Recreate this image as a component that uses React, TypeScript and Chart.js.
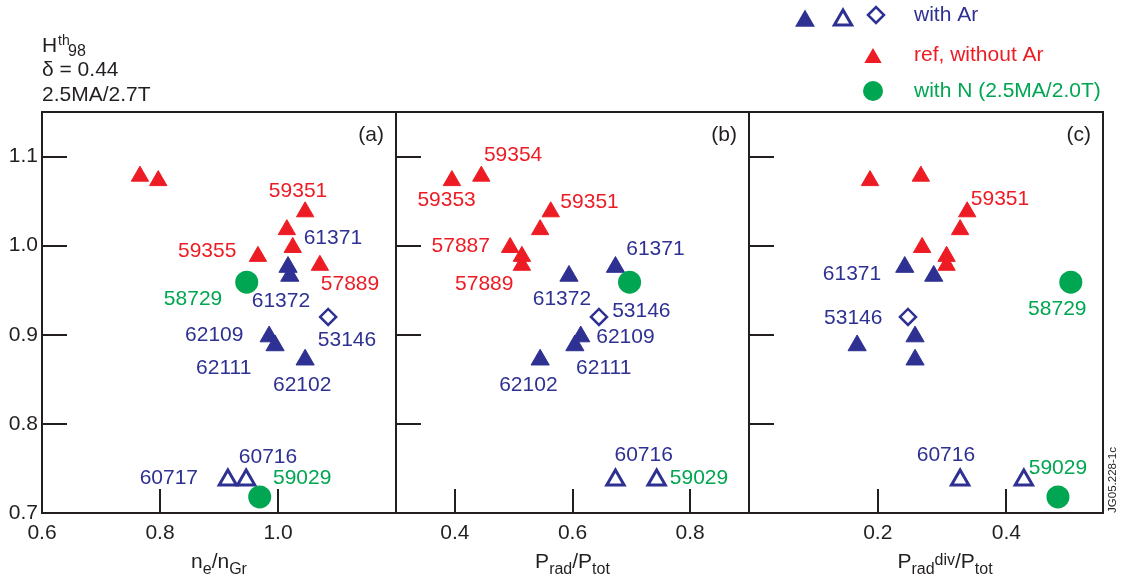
import { useEffect, useRef } from 'react';
import { Chart, registerables } from 'chart.js';
import { drawPoint } from 'chart.js/helpers';

Chart.register(...registerables);

const FONT = '"Liberation Sans", Arial, Helvetica, sans-serif';
const INK = '#231f20';
const BLUE = '#2e3192';
const RED = '#ed1c24';
const GREEN = '#00a651';

// H98(y,2) axis
const hTicks = [0.7, 0.8, 0.9, 1.0, 1.1];

// Reference discharges without argon
const refH = [1.078, 1.073, 1.038, 1.018, 0.998, 0.988, 0.978];
const refNeOverNGr = [0.766, 0.797, 1.046, 1.015, 1.025, 0.966, 1.071];
const refPradOverPtot = [0.445, 0.395, 0.563, 0.545, 0.494, 0.514, 0.514];
const refPradDivOverPtot = [0.267, 0.188, 0.339, 0.328, 0.269, 0.307, 0.307];

// Argon-seeded discharges 61371, 61372, 62109, 62111, 62102
const arH = [0.976, 0.966, 0.898, 0.888, 0.872];
const arNeOverNGr = [1.017, 1.020, 0.985, 0.995, 1.046];
const arPradOverPtot = [0.673, 0.594, 0.614, 0.604, 0.545];
const arPradDivOverPtot = [0.242, 0.287, 0.258, 0.168, 0.258];

// Argon-seeded discharges 60717, 60716 (open triangles)
const arOpenH = [0.737, 0.737];
const arOpenNeOverNGr = [0.915, 0.946];
const arOpenPradOverPtot = [0.673, 0.743];
const arOpenPradDivOverPtot = [0.328, 0.427];

// Argon-seeded discharge 53146 (diamond)
const arDiamondH = [0.92];
const arDiamondNeOverNGr = [1.085];
const arDiamondPradOverPtot = [0.645];
const arDiamondPradDivOverPtot = [0.247];

// Nitrogen-seeded discharges 58729, 59029 (2.5MA/2.0T)
const nH = [0.959, 0.718];
const nNeOverNGr = [0.947, 0.969];
const nPradOverPtot = [0.697, null];
const nPradDivOverPtot = [0.5, 0.48];

// Tick values of the three abscissae
const neTicks = [0.6, 0.8, 1.0];
const pradTicks = [0.4, 0.6, 0.8];
const pradDivTicks = [0.2, 0.4];

// Shot numbers, anchored in data units of each panel
const shotLabelsA = [
  { text: '59351', color: RED, x: 1.034, y: 1.061 },
  { text: '59355', color: RED, x: 0.88, y: 0.994 },
  { text: '61371', color: BLUE, x: 1.093, y: 1.008 },
  { text: '57889', color: RED, x: 1.122, y: 0.957 },
  { text: '58729', color: GREEN, x: 0.856, y: 0.94 },
  { text: '61372', color: BLUE, x: 1.005, y: 0.938 },
  { text: '62109', color: BLUE, x: 0.892, y: 0.9 },
  { text: '53146', color: BLUE, x: 1.117, y: 0.894 },
  { text: '62111', color: BLUE, x: 0.908, y: 0.863 },
  { text: '62102', color: BLUE, x: 1.041, y: 0.843 },
  { text: '60716', color: BLUE, x: 0.983, y: 0.763 },
  { text: '60717', color: BLUE, x: 0.815, y: 0.739 },
  { text: '59029', color: GREEN, x: 1.041, y: 0.739 },
];
const shotLabelsB = [
  { text: '59354', color: RED, x: 0.499, y: 1.102 },
  { text: '59353', color: RED, x: 0.386, y: 1.051 },
  { text: '59351', color: RED, x: 0.629, y: 1.049 },
  { text: '57887', color: RED, x: 0.41, y: 0.999 },
  { text: '57889', color: RED, x: 0.45, y: 0.957 },
  { text: '61371', color: BLUE, x: 0.741, y: 0.996 },
  { text: '61372', color: BLUE, x: 0.582, y: 0.94 },
  { text: '53146', color: BLUE, x: 0.717, y: 0.926 },
  { text: '62109', color: BLUE, x: 0.69, y: 0.897 },
  { text: '62111', color: BLUE, x: 0.653, y: 0.863 },
  { text: '62102', color: BLUE, x: 0.525, y: 0.843 },
  { text: '60716', color: BLUE, x: 0.721, y: 0.765 },
  { text: '59029', color: GREEN, x: 0.815, y: 0.739 },
];
const shotLabelsC = [
  { text: '59351', color: RED, x: 0.39, y: 1.052 },
  { text: '61371', color: BLUE, x: 0.16, y: 0.968 },
  { text: '53146', color: BLUE, x: 0.162, y: 0.919 },
  { text: '58729', color: GREEN, x: 0.479, y: 0.929 },
  { text: '60716', color: BLUE, x: 0.306, y: 0.765 },
  { text: '59029', color: GREEN, x: 0.48, y: 0.75 },
];

const panels = [
  {
    id: 'xa', min: 0.6, max: 1.2, ticks: neTicks, weight: 354, tag: '(a)', titleShift: 0,
    title: [{ t: 'n' }, { t: 'e', sub: true }, { t: '/n' }, { t: 'Gr', sub: true }],
    ref: refNeOverNGr, ar: arNeOverNGr, arOpen: arOpenNeOverNGr, diamond: arDiamondNeOverNGr, n: nNeOverNGr,
    labels: shotLabelsA,
  },
  {
    id: 'xb', min: 0.3, max: 0.9, ticks: pradTicks, weight: 353, tag: '(b)', titleShift: 0,
    title: [{ t: 'P' }, { t: 'rad', sub: true }, { t: '/P' }, { t: 'tot', sub: true }],
    ref: refPradOverPtot, ar: arPradOverPtot, arOpen: arOpenPradOverPtot, diamond: arDiamondPradOverPtot, n: nPradOverPtot,
    labels: shotLabelsB,
  },
  {
    id: 'xc', min: 0, max: 0.55, ticks: pradDivTicks, weight: 354, tag: '(c)', titleShift: 19,
    title: [{ t: 'P' }, { t: 'rad', sub: true }, { t: 'div', sup: true }, { t: '/P' }, { t: 'tot', sub: true }],
    ref: refPradDivOverPtot, ar: arPradDivOverPtot, arOpen: arOpenPradDivOverPtot, diamond: arDiamondPradDivOverPtot, n: nPradDivOverPtot,
    labels: shotLabelsC,
  },
];

const pts = (xs: (number | null)[], ys: number[]) =>
  xs.map((x, i) => (x == null ? null : { x, y: ys[i] })).filter(Boolean);

// Text with sub- and superscripts, drawn on one baseline
function drawRich(ctx: CanvasRenderingContext2D, parts: any[], x: number, y: number, align: 'left' | 'center', color: string) {
  const main = 21;
  const small = 16;
  const fontOf = (p: any) => `${p.sub || p.sup ? small : main}px ${FONT}`;
  let total = 0;
  parts.forEach((p) => { ctx.font = fontOf(p); total += ctx.measureText(p.t).width; });
  let cx = align === 'center' ? x - total / 2 : x;
  ctx.textAlign = 'left';
  ctx.textBaseline = 'alphabetic';
  ctx.fillStyle = color;
  parts.forEach((p) => {
    ctx.font = fontOf(p);
    const dy = p.sub ? 6 : p.sup ? -3 : 0;
    ctx.fillText(p.t, cx, y + dy);
    cx += ctx.measureText(p.t).width;
  });
}

const overlay = {
  id: 'panelOverlay',
  afterDraw(chart: any) {
    const ctx: CanvasRenderingContext2D = chart.ctx;
    const yS = chart.scales.y;
    const { top, bottom } = chart.chartArea;
    ctx.save();
    panels.forEach((p) => {
      const s = chart.scales[p.id];
      ctx.strokeStyle = INK;
      ctx.lineWidth = 2;
      ctx.strokeRect(s.left, top, s.right - s.left, bottom - top);
      ctx.beginPath();
      yS.ticks.forEach((t: any) => {
        const py = Math.round(yS.getPixelForValue(t.value));
        if (py < bottom - 2) { ctx.moveTo(s.left, py); ctx.lineTo(s.left + 25, py); }
      });
      s.ticks.forEach((t: any) => {
        const px = Math.round(s.getPixelForValue(t.value));
        if (px > s.left + 2) { ctx.moveTo(px, bottom); ctx.lineTo(px, bottom - 24); }
      });
      ctx.stroke();

      ctx.font = `21px ${FONT}`;
      ctx.fillStyle = INK;
      ctx.textAlign = 'right';
      ctx.textBaseline = 'alphabetic';
      ctx.fillText(p.tag, s.right - 12, top + 29);

      drawRich(ctx, p.title, (s.left + s.right) / 2 + p.titleShift, 568, 'center', INK);

      ctx.font = `21px ${FONT}`;
      ctx.textAlign = 'center';
      ctx.textBaseline = 'middle';
      p.labels.forEach((l) => {
        ctx.fillStyle = l.color;
        ctx.fillText(l.text, s.getPixelForValue(l.x), yS.getPixelForValue(l.y));
      });
    });

    // Discharge parameters, top left
    ctx.fillStyle = INK;
    ctx.textAlign = 'left';
    ctx.textBaseline = 'alphabetic';
    ctx.font = `21px ${FONT}`;
    ctx.fillText('H', 42, 52);
    ctx.font = `14px ${FONT}`;
    ctx.fillText('th', 58, 45);
    ctx.font = `16px ${FONT}`;
    ctx.fillText('98', 68, 56);
    ctx.font = `21px ${FONT}`;
    ctx.fillText('\u03b4 = 0.44', 42, 76);
    ctx.fillText('2.5MA/2.7T', 42, 101);

    // Legend
    const mark = (style: string, r: number, x: number, y: number, fill: string, stroke: string, bw: number) => {
      ctx.fillStyle = fill;
      ctx.strokeStyle = stroke;
      ctx.lineWidth = bw;
      ctx.beginPath();
      drawPoint(ctx, { pointStyle: style, radius: r, rotation: 0, borderWidth: bw } as any, x, y);
    };
    mark('triangle', 11.5, 805, 21, BLUE, BLUE, 0);
    mark('triangle', 10, 843, 20, '#fff', BLUE, 3);
    mark('rectRot', 8, 876, 15, '#fff', BLUE, 2.5);
    mark('triangle', 10, 873, 58, RED, RED, 0);
    mark('circle', 10, 873, 91, GREEN, GREEN, 0);
    ctx.font = `21px ${FONT}`;
    ctx.textAlign = 'left';
    ctx.textBaseline = 'alphabetic';
    ctx.fillStyle = BLUE;
    ctx.fillText('with Ar', 914, 21);
    ctx.fillStyle = RED;
    ctx.fillText('ref, without Ar', 914, 61);
    ctx.fillStyle = GREEN;
    ctx.fillText('with N (2.5MA/2.0T)', 914, 97);

    // Figure reference, vertical at the right edge
    ctx.save();
    ctx.translate(1113, 480);
    ctx.rotate(-Math.PI / 2);
    ctx.font = `11.5px ${FONT}`;
    ctx.fillStyle = INK;
    ctx.textAlign = 'center';
    ctx.textBaseline = 'middle';
    ctx.fillText('JG05.228-1c', 0, 0);
    ctx.restore();

    ctx.restore();
  },
};

function xScale(p: any) {
  return {
    type: 'linear',
    position: 'bottom',
    stack: 'panels',
    stackWeight: p.weight,
    min: p.min,
    max: p.max,
    grid: { display: false, drawTicks: false },
    border: { display: false },
    ticks: {
      font: { family: FONT, size: 21 },
      color: INK,
      padding: 8,
      maxRotation: 0,
      autoSkip: false,
      callback: (v: any) => Number(v).toFixed(1),
    },
    afterBuildTicks: (s: any) => { s.ticks = p.ticks.map((value: number) => ({ value })); },
    afterFit: (s: any) => { s.height = 72; },
  };
}

export default function App() {
  const ref = useRef<HTMLCanvasElement>(null);

  useEffect(() => {
    const datasets: any[] = panels.flatMap((p) => [
      {
        label: 'ref, without Ar', data: pts(p.ref, refH), xAxisID: p.id, yAxisID: 'y',
        pointStyle: 'triangle', pointRadius: 10, pointBackgroundColor: RED, pointBorderColor: RED, pointBorderWidth: 1, order: 4, clip: false,
      },
      {
        label: 'with Ar', data: pts(p.ar, arH), xAxisID: p.id, yAxisID: 'y',
        pointStyle: 'triangle', pointRadius: 10.5, pointBackgroundColor: BLUE, pointBorderColor: BLUE, pointBorderWidth: 1, order: 3, clip: false,
      },
      {
        label: 'with Ar (open)', data: pts(p.arOpen, arOpenH), xAxisID: p.id, yAxisID: 'y',
        pointStyle: 'triangle', pointRadius: 10, pointBackgroundColor: '#fff', pointBorderColor: BLUE, pointBorderWidth: 3, order: 2, clip: false,
      },
      {
        label: 'with Ar (diamond)', data: pts(p.diamond, arDiamondH), xAxisID: p.id, yAxisID: 'y',
        pointStyle: 'rectRot', pointRadius: 8, pointBackgroundColor: '#fff', pointBorderColor: BLUE, pointBorderWidth: 2.5, order: 2, clip: false,
      },
      {
        label: 'with N', data: pts(p.n, nH), xAxisID: p.id, yAxisID: 'y',
        pointStyle: 'circle', pointRadius: 11.5, pointBackgroundColor: GREEN, pointBorderColor: GREEN, pointBorderWidth: 0, order: 1, clip: false,
      },
    ]);

    const scales: any = {};
    panels.forEach((p) => { scales[p.id] = xScale(p); });
    scales.y = {
      type: 'linear',
      position: 'left',
      min: 0.7,
      max: 1.15,
      grid: { display: false, drawTicks: false },
      border: { display: false },
      ticks: {
        font: { family: FONT, size: 21 },
        color: INK,
        padding: 4,
        callback: (v: any) => Number(v).toFixed(1),
      },
      afterBuildTicks: (s: any) => { s.ticks = hTicks.map((value) => ({ value })); },
      afterFit: (s: any) => { s.width = 42; },
    };

    const chart = new Chart(ref.current as HTMLCanvasElement, {
      type: 'scatter',
      data: { datasets },
      options: {
        animation: false,
        responsive: false,
        devicePixelRatio: 1,
        events: [],
        layout: { padding: { top: 112, right: 20, bottom: 0, left: 0 } },
        plugins: { legend: { display: false }, tooltip: { enabled: false } },
        scales,
      } as any,
      plugins: [overlay],
    });
    return () => chart.destroy();
  }, []);

  return (
    <div style={{ position: 'absolute', left: 0, top: 0, width: 1123, height: 585, background: '#fff' }}>
      <canvas ref={ref} width={1123} height={585} style={{ display: 'block', width: 1123, height: 585 }} />
    </div>
  );
}
